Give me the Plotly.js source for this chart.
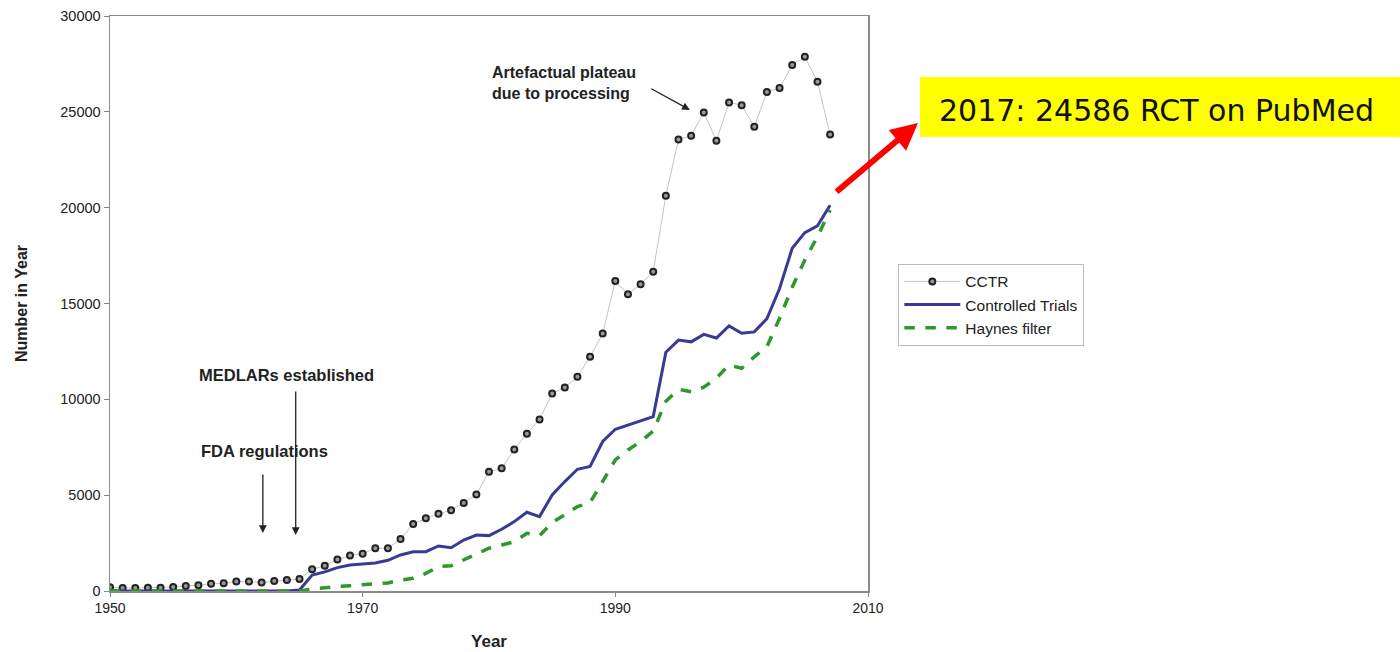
<!DOCTYPE html>
<html><head><meta charset="utf-8">
<script src="https://cdn.plot.ly/plotly-3.0.1.min.js"></script>
<style>html,body{margin:0;padding:0;background:#fff}#chart{width:1400px;height:652px}</style>
</head><body><div id="chart"></div>
<script>
const years = [];
for (let y = 1950; y <= 2007; y++) years.push(y);

const cctr = [200,160,160,170,170,210,260,300,380,400,490,490,440,520,570,620,
  1130,1320,1650,1850,1950,2230,2230,2710,3490,3790,4030,4210,4590,5040,
  6220,6400,7380,8210,8950,10300,10620,11180,12220,13430,
  16170,15480,16000,16660,20620,23560,23750,24970,23490,25490,
  25350,24220,26030,26240,27440,27870,26570,23820];

const controlled = [0,0,0,0,0,0,0,0,0,0,0,0,0,0,0,50,
  830,1000,1220,1360,1410,1460,1600,1880,2050,2050,2350,2260,2660,2920,
  2890,3220,3620,4110,3880,5010,5710,6350,6500,7800,
  8440,8660,8870,9100,12460,13090,13000,13390,13200,13830,
  13450,13520,14210,15780,17880,18700,19050,20130];

const haynes = [0,0,0,0,0,0,0,0,0,0,0,0,0,0,0,0,
  100,180,230,280,320,370,420,570,660,920,1270,1320,1620,1880,
  2230,2400,2570,3010,2890,3570,3970,4400,4610,5710,
  6840,7360,7800,8350,9900,10520,10400,10630,11100,11790,
  11620,12220,12750,14230,15850,17270,18490,19880];

const xTicks = [1950, 1970, 1990, 2010];
const yTicks = [0, 5000, 10000, 15000, 20000, 25000, 30000];

const font = 'Liberation Sans, Arial, sans-serif';

const traces = [
  {x: years, y: cctr, name: 'CCTR', type: 'scatter', mode: 'lines+markers',
   line: {color: '#c4c4c4', width: 1},
   marker: {symbol: 'circle', size: 6, color: '#9a9a9a', line: {color: '#222', width: 2}}},
  {x: years, y: controlled, name: 'Controlled Trials', type: 'scatter', mode: 'lines',
   line: {color: '#3a3a96', width: 3}},
  {x: years, y: haynes, name: 'Haynes filter', type: 'scatter', mode: 'lines',
   line: {color: '#2a9a2a', width: 3.5, dash: 'dash'}}
];

const layout = {
  width: 1400, height: 652,
  margin: {l: 110, r: 532, t: 16, b: 61},
  paper_bgcolor: '#fff', plot_bgcolor: '#fff',
  font: {family: font, size: 14, color: '#222'},
  showlegend: true,
  legend: {x: 1.04, y: 0.569, xanchor: 'left', yanchor: 'top',
    bordercolor: '#bbb', borderwidth: 1, bgcolor: '#fff', itemwidth: 56,
    font: {family: font, size: 15.5, color: '#222'}, tracegroupgap: 0},
  xaxis: {range: [1950, 2010], tickvals: xTicks, ticktext: xTicks.map(String),
    showgrid: false, zeroline: false, showline: true, linecolor: '#8a8a8a', linewidth: 1.5,
    mirror: true, ticks: 'outside', ticklen: 4, tickcolor: '#8a8a8a',
    tickfont: {family: font, size: 14, color: '#222'},
    title: {text: '<b>Year</b>', font: {family: font, size: 17, color: '#222'}, standoff: 20}},
  yaxis: {range: [0, 30000], tickvals: yTicks, ticktext: yTicks.map(String),
    showgrid: false, zeroline: false, showline: true, linecolor: '#8a8a8a', linewidth: 1.5,
    mirror: true, ticks: 'outside', ticklen: 5, tickcolor: '#8a8a8a',
    tickfont: {family: font, size: 14.5, color: '#222'},
    title: {text: '<b>Number in Year</b>', font: {family: font, size: 16, color: '#222'}, standoff: 28}},
  shapes: [
    {type: 'rect', xref: 'paper', yref: 'paper', x0: 1.0686, x1: 1.7018, y0: 0.7896, y1: 0.8939,
     fillcolor: '#ffff00', line: {width: 0}, layer: 'above'}
  ],
  annotations: [
    {xref: 'paper', yref: 'paper', x: 1.3806, y: 0.8365, text: '2017: 24586 RCT on PubMed',
     showarrow: false, font: {family: 'DejaVu Sans, sans-serif', size: 30, color: '#111'},
     xanchor: 'center', yanchor: 'middle'},
    {xref: 'paper', yref: 'paper', x: 1.066, y: 0.814, ax: -83, ay: 70, text: '',
     showarrow: true, arrowhead: 2, arrowsize: 0.9, arrowwidth: 6, arrowcolor: '#ff0000'},
    {x: 1980.1, y: 26500, text: '<b>Artefactual plateau<br>due to processing</b>', showarrow: false,
     xanchor: 'left', yanchor: 'middle', align: 'left', font: {family: font, size: 16, color: '#222'}},
    {x: 1995.9, y: 25100, ax: -40, ay: -22, text: '', showarrow: true, arrowhead: 2,
     arrowsize: 1.2, arrowwidth: 1.3, arrowcolor: '#222'},
    {x: 1964.0, y: 11270, text: '<b>MEDLARs established</b>', showarrow: false,
     xanchor: 'center', yanchor: 'middle', font: {family: font, size: 16.5, color: '#222'}},
    {x: 1964.7, y: 2920, ax: 0, ay: -145, text: '', showarrow: true, arrowhead: 2,
     arrowsize: 1.2, arrowwidth: 1.3, arrowcolor: '#222'},
    {x: 1962.2, y: 7300, text: '<b>FDA regulations</b>', showarrow: false,
     xanchor: 'center', yanchor: 'middle', font: {family: font, size: 16.5, color: '#222'}},
    {x: 1962.1, y: 3020, ax: 0, ay: -60, text: '', showarrow: true, arrowhead: 2,
     arrowsize: 1.2, arrowwidth: 1.3, arrowcolor: '#222'}
  ]
};

Plotly.newPlot('chart', traces, layout, {displayModeBar: false, staticPlot: true});
</script></body></html>
